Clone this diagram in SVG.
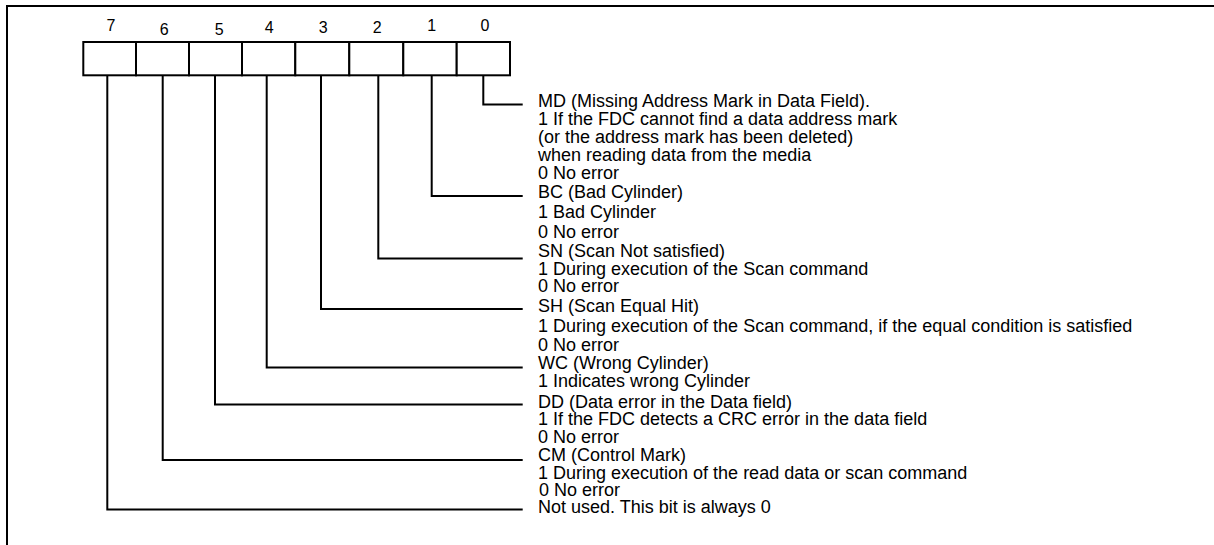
<svg xmlns="http://www.w3.org/2000/svg" width="1214" height="545" viewBox="0 0 1214 545">
<style>
  .ln { fill: none; stroke: #000; stroke-width: 2; }
  .box { fill: #fff; stroke: #000; stroke-width: 2; }
  .t { font-family: "Liberation Sans", Arial, sans-serif; font-size: 18px; fill: #000; }
  .d { font-family: "Liberation Sans", Arial, sans-serif; font-size: 16px; fill: #000; text-anchor: middle; }
</style>
<rect width="1214" height="545" fill="#fff"/>
<g id="frame">
  <path class="ln" d="M7,546 V6 H1215"/>
</g>
<g id="register">
  <rect class="box" x="83.3" y="42" width="52.7" height="33.3"/>
  <rect class="box" x="136" y="42" width="53" height="33.3"/>
  <rect class="box" x="189" y="42" width="53" height="33.3"/>
  <rect class="box" x="242" y="42" width="53.3" height="33.3"/>
  <rect class="box" x="295.3" y="42" width="54" height="33.3"/>
  <rect class="box" x="349.3" y="42" width="54" height="33.3"/>
  <rect class="box" x="403.3" y="42" width="53.4" height="33.3"/>
  <rect class="box" x="456.7" y="42" width="53.3" height="33.3"/>
  <text class="d" x="111" y="31">7</text>
  <text class="d" x="164.3" y="35">6</text>
  <text class="d" x="219.3" y="35">5</text>
  <text class="d" x="269.3" y="33.3">4</text>
  <text class="d" x="323.3" y="33.3">3</text>
  <text class="d" x="377.3" y="33.3">2</text>
  <text class="d" x="431.7" y="31">1</text>
  <text class="d" x="485" y="31">0</text>
</g>
<g id="connectors">
  <path class="ln" d="M483.3,75.3 V104.5 H522.7"/>
  <path class="ln" d="M431.7,75.3 V196 H522.7"/>
  <path class="ln" d="M378.3,75.3 V258.5 H522.7"/>
  <path class="ln" d="M321,75.3 V309 H522.7"/>
  <path class="ln" d="M266.7,75.3 V367.5 H522.7"/>
  <path class="ln" d="M215,75.3 V404.5 H522.7"/>
  <path class="ln" d="M162.7,75.3 V460 H522.7"/>
  <path class="ln" d="M107.3,75.3 V509.5 H522.7"/>
</g>
<g id="bit0">
  <text class="t" x="538" y="107">MD (Missing Address Mark in Data Field).</text>
  <text class="t" x="538" y="125">1 If the FDC cannot find a data address mark</text>
  <text class="t" x="538" y="143">(or the address mark has been deleted)</text>
  <text class="t" x="538" y="161">when reading data from the media</text>
  <text class="t" x="538" y="179">0 No error</text>
</g>
<g id="bit1">
  <text class="t" x="538" y="198">BC (Bad Cylinder)</text>
  <text class="t" x="538" y="217.5">1 Bad Cylinder</text>
  <text class="t" x="538" y="237.5">0 No error</text>
</g>
<g id="bit2">
  <text class="t" x="538" y="257">SN (Scan Not satisfied)</text>
  <text class="t" x="538" y="275">1 During execution of the Scan command</text>
  <text class="t" x="538" y="292">0 No error</text>
</g>
<g id="bit3">
  <text class="t" x="538" y="312">SH (Scan Equal Hit)</text>
  <text class="t" x="538" y="331.7">1 During execution of the Scan command, if the equal condition is satisfied</text>
  <text class="t" x="538" y="351">0 No error</text>
</g>
<g id="bit4">
  <text class="t" x="538" y="369">WC (Wrong Cylinder)</text>
  <text class="t" x="538" y="387">1 Indicates wrong Cylinder</text>
</g>
<g id="bit5">
  <text class="t" x="538" y="408">DD (Data error in the Data field)</text>
  <text class="t" x="538" y="425">1 If the FDC detects a CRC error in the data field</text>
  <text class="t" x="538" y="443">0 No error</text>
</g>
<g id="bit6">
  <text class="t" x="538" y="461">CM (Control Mark)</text>
  <text class="t" x="538" y="478.5">1 During execution of the read data or scan command</text>
  <text class="t" x="539" y="496">0 No error</text>
</g>
<g id="bit7">
  <text class="t" x="538" y="513">Not used. This bit is always 0</text>
</g>
</svg>
